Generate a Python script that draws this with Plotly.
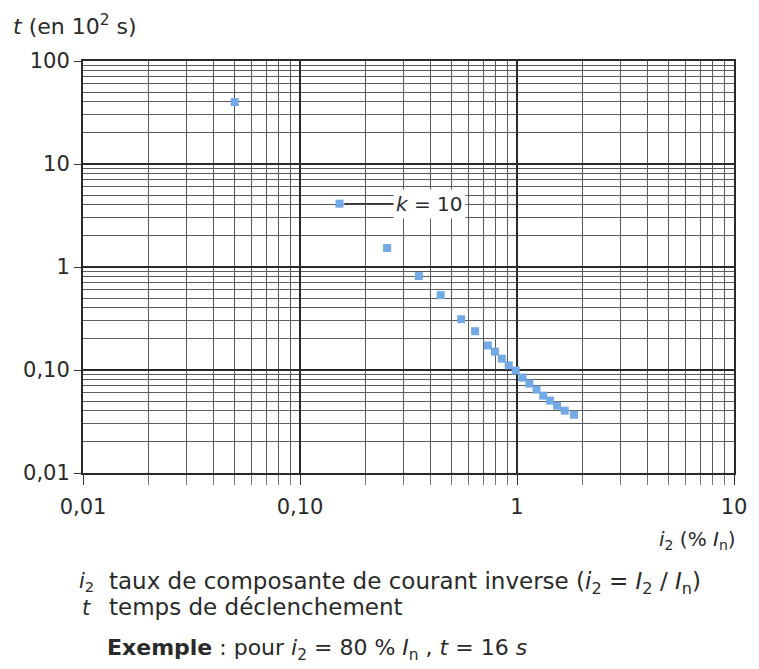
import math
import plotly.graph_objects as go

# ---- data ----
i2_values = [0.050, 0.152, 0.252, 0.353, 0.445, 0.553, 0.641, 0.734, 0.791, 0.851,
             0.916, 0.986, 1.06, 1.14, 1.23, 1.32, 1.42, 1.53, 1.66, 1.83]
t_values = [39.9, 4.12, 1.53, 0.817, 0.533, 0.311, 0.238, 0.173, 0.151, 0.129,
            0.111, 0.0988, 0.0845, 0.0738, 0.0645, 0.0564, 0.0504, 0.0450, 0.0403, 0.0368]
x_tick_vals = [0.01, 0.1, 1, 10]
x_tick_text = ["0,01", "0,10", "1", "10"]
y_tick_vals = [0.01, 0.1, 1, 10, 100]
y_tick_text = ["0,01", "0,10", "1", "10", "100"]
curve_label = "<i>k</i> = 10"
label_point_index = 1

FONT = "DejaVu Sans, Verdana, sans-serif"
TXT = "#2a2a2a"
MARKER_COLOR = "#72a9e6"

W, H = 759, 669
PL, PR, PT, PB = 83, 742, 61, 473   # plot box in pixels

def minor_vals(lo_exp, hi_exp):
    return [m * 10 ** e for e in range(lo_exp, hi_exp) for m in range(2, 10)]

fig = go.Figure()
fig.add_trace(go.Scatter(
    x=i2_values, y=t_values, mode="markers",
    marker=dict(symbol="square", size=8, color=MARKER_COLOR, line=dict(width=0)),
    hoverinfo="x+y", showlegend=False,
))

fig.update_layout(
    width=W, height=H,
    margin=dict(l=PL, r=W - PR, t=PT, b=H - PB),
    paper_bgcolor="white", plot_bgcolor="white",
    font=dict(family=FONT, size=21, color=TXT),
    showlegend=False,
)
fig.update_xaxes(
    type="log", range=[-2, 1],
    tickvals=x_tick_vals, ticktext=x_tick_text,
    ticks="outside", ticklen=10, tickcolor="#333", tickwidth=1,
    showgrid=True, gridcolor="#2a2a2a", gridwidth=2,
    showline=True, linecolor="#2a2a2a", linewidth=2, mirror=True,
    tickfont=dict(size=21, color=TXT),
    ticklabelstandoff=4,
    zeroline=False,
    minor=dict(tickvals=minor_vals(-2, 1), showgrid=True, gridcolor="#5a5a5a", gridwidth=1,
               ticks="outside", ticklen=10, tickcolor="#777"),
)
fig.update_yaxes(
    type="log", range=[-2, 2],
    tickvals=y_tick_vals, ticktext=y_tick_text,
    ticks="outside", ticklen=7, tickcolor="#333",
    showgrid=True, gridcolor="#2a2a2a", gridwidth=2,
    showline=True, linecolor="#2a2a2a", linewidth=2, mirror=True,
    tickfont=dict(size=21, color=TXT),
    zeroline=False,
    minor=dict(tickvals=minor_vals(-2, 2), showgrid=True, gridcolor="#5a5a5a", gridwidth=1),
)

# curve label with leader line
fig.add_annotation(
    x=math.log10(i2_values[label_point_index]), y=math.log10(t_values[label_point_index]),
    xref="x", yref="y", text=curve_label, showarrow=True, arrowhead=0,
    arrowwidth=1.5, arrowcolor="#333", ax=90, ay=0, standoff=5,
    bgcolor="white", font=dict(size=20, color=TXT), borderpad=2,
)

PH = float(PB - PT)
PW = float(PR - PL)
def py(p):
    return (PB - p) / PH
def px(p):
    return (p - PL) / PW

def note(x, y, text, anchor="left", size=21):
    fig.add_annotation(x=px(x), y=py(y), xref="paper", yref="paper", xanchor=anchor,
                       yanchor="middle", text=text, showarrow=False,
                       font=dict(size=size, color=TXT))

# axis titles
note(10, 25, "<i>t</i> (en 10<sup>2</sup> s)", size=22)
note(746, 540, "<i>i</i><sub>2</sub> (% <i>I</i><sub>n</sub>)", anchor="right", size=20)

# notes
note(77, 582, "<i>i</i><sub>2</sub>", size=21)
note(107, 583, "taux de composante de courant inverse (<i>i</i><sub>2</sub> = <i>I</i><sub>2</sub> / <i>I</i><sub>n</sub>)", size=23)
note(80, 608, "<i>t</i>", size=21)
note(107, 607, "temps de déclenchement", size=23)
note(105, 649, "<b>Exemple</b> : pour <i>i</i><sub>2</sub> = 80 % <i>I</i><sub>n</sub> , <i>t</i> = 16 <i>s</i>", size=22)

fig.write_html("out.html", config={"displayModeBar": False},
               post_script="document.body.style.margin='0';document.body.style.overflow='hidden';")
